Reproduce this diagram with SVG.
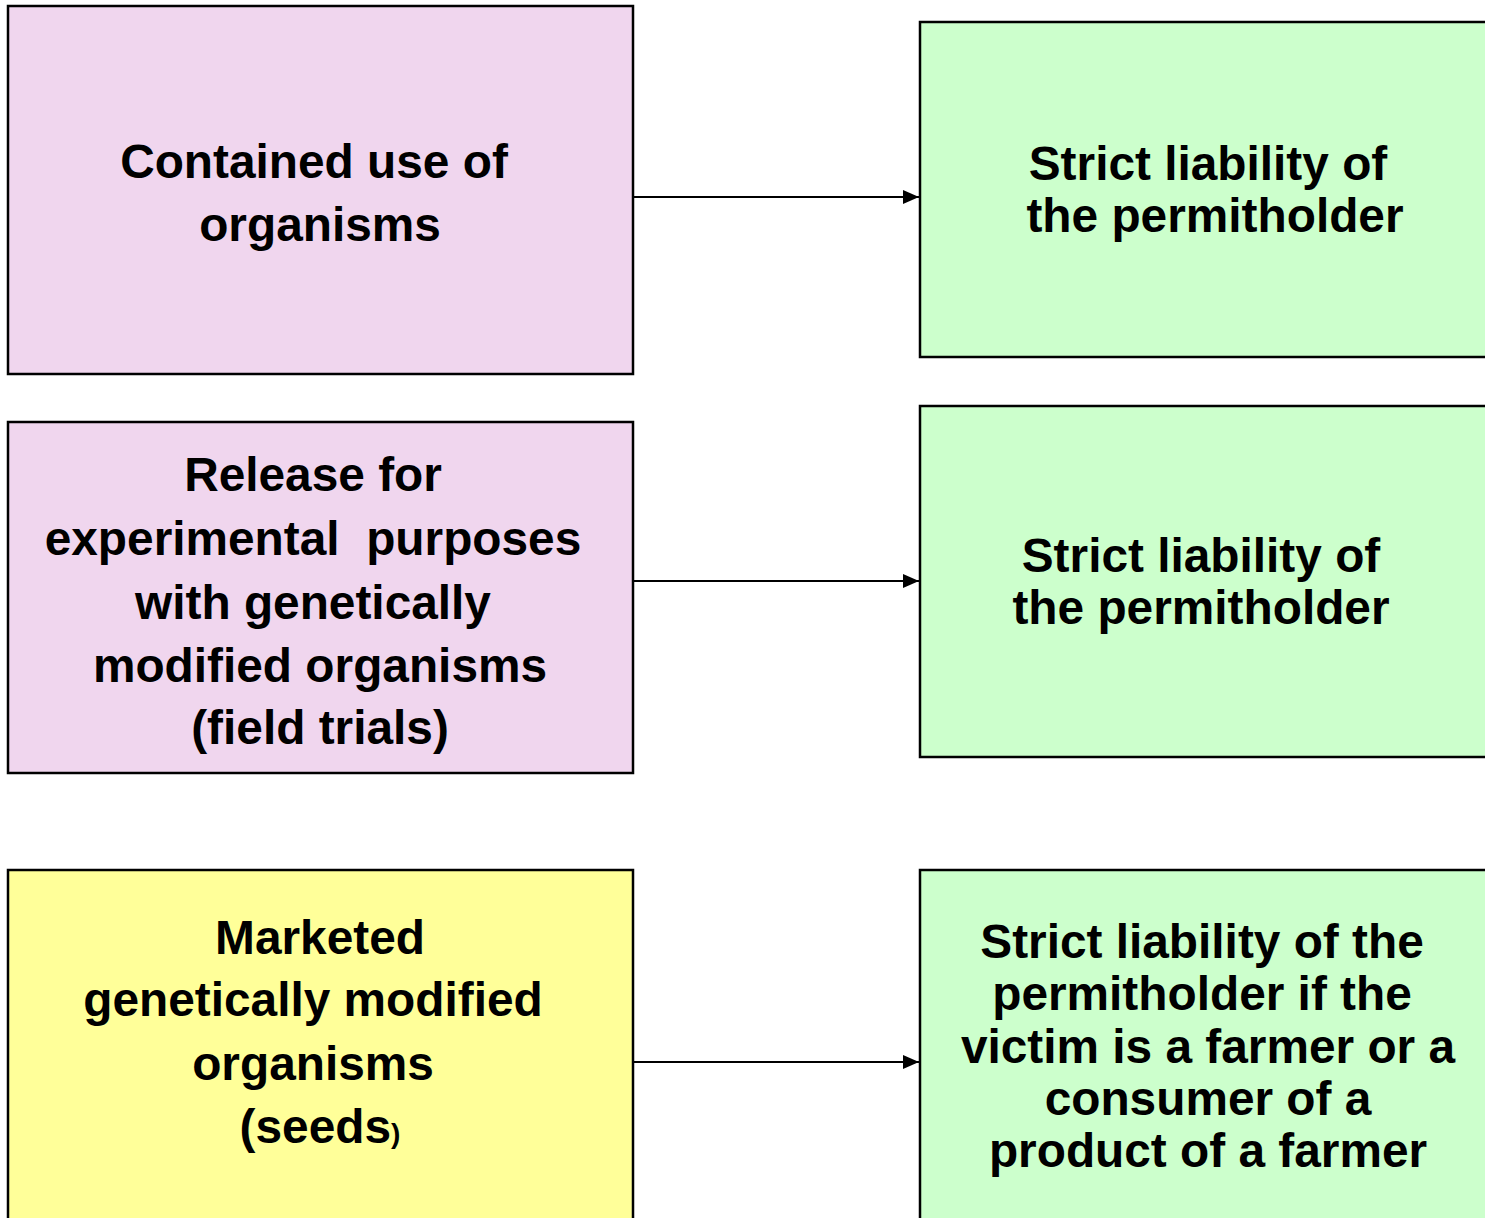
<svg xmlns="http://www.w3.org/2000/svg" width="1485" height="1218" viewBox="0 0 1485 1218">
<style>
.box{stroke:#000;stroke-width:2.5}
.pink{fill:#F0D6EE}
.green{fill:#CCFFCC}
.yellow{fill:#FFFF99}
text{font-family:"Liberation Sans",Arial,sans-serif;font-weight:bold;font-size:47.8px;fill:#000;text-anchor:middle}
.conn{stroke:#000;stroke-width:2.2;fill:none}
</style>
<defs>
<marker id="arr" markerWidth="16" markerHeight="14" refX="16" refY="7" orient="auto" markerUnits="userSpaceOnUse">
<path d="M0,0 L16,7 L0,14 Z" fill="#000"/>
</marker>
</defs>
<rect width="1485" height="1218" fill="#fff"/>
<g id="n1">
<rect class="box pink" x="8" y="6" width="625" height="368"/>
<text x="314" y="178">Contained use of</text>
<text x="320" y="241">organisms</text>
</g>
<g id="n2">
<rect class="box pink" x="8" y="422" width="625" height="351"/>
<text x="313" y="491">Release for</text>
<text x="313" y="555" xml:space="preserve">experimental  purposes</text>
<text x="313" y="619">with genetically</text>
<text x="320" y="682">modified organisms</text>
<text x="320" y="744">(field trials)</text>
</g>
<g id="n3">
<rect class="box yellow" x="8" y="870" width="625" height="360"/>
<text x="320" y="954">Marketed</text>
<text x="313" y="1016">genetically modified</text>
<text x="313" y="1080">organisms</text>
<text x="320" y="1143">(seeds<tspan font-size="28">)</tspan></text>
</g>
<g id="g1">
<rect class="box green" x="920" y="22" width="580" height="335"/>
<text x="1208" y="180">Strict liability of</text>
<text x="1215" y="232">the permitholder</text>
</g>
<g id="g2">
<rect class="box green" x="920" y="406" width="580" height="351"/>
<text x="1201" y="572">Strict liability of</text>
<text x="1201" y="624">the permitholder</text>
</g>
<g id="g3">
<rect class="box green" x="920" y="870" width="580" height="360"/>
<text x="1202" y="958">Strict liability of the</text>
<text x="1202" y="1010">permitholder if the</text>
<text x="1208" y="1063">victim is a farmer or a</text>
<text x="1208" y="1115">consumer of a</text>
<text x="1208" y="1167">product of a farmer</text>
</g>
<g id="connectors">
<line class="conn" x1="634" y1="197" x2="919" y2="197" marker-end="url(#arr)"/>
<line class="conn" x1="634" y1="581" x2="919" y2="581" marker-end="url(#arr)"/>
<line class="conn" x1="634" y1="1062" x2="919" y2="1062" marker-end="url(#arr)"/>
</g>
</svg>
